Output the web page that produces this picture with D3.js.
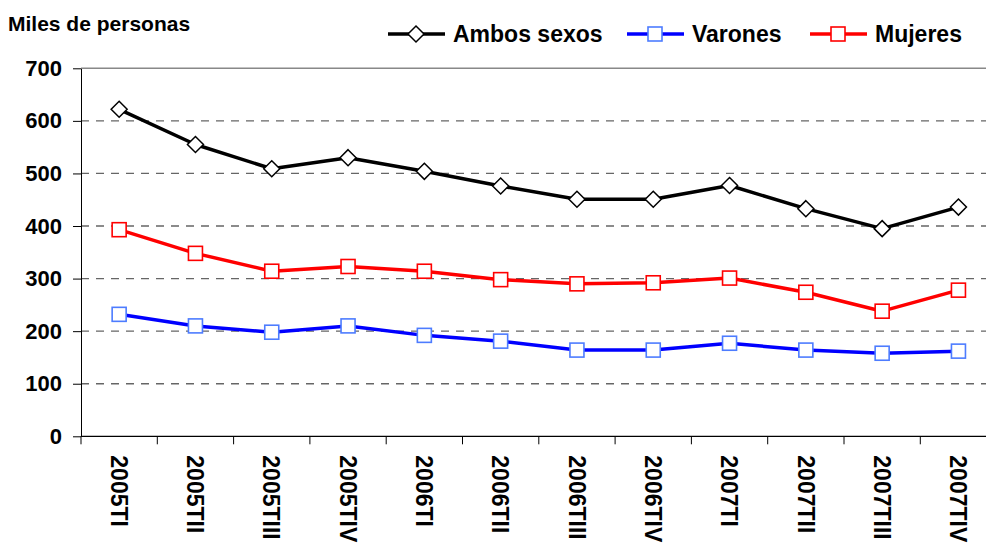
<!DOCTYPE html>
<html>
<head>
<meta charset="utf-8">
<script src="https://cdn.jsdelivr.net/npm/d3@7"></script>
<style>
	body { margin: 0; background: #fff; }
	svg { display: block; font-family: "Liberation Sans", Arial, sans-serif; font-weight: bold; }
</style>
</head>
<body>
<div id="chart"></div>
<script>
// trimestres
const categories = ["2005TI", "2005TII", "2005TIII", "2005TIV", "2006TI", "2006TII",
	"2006TIII", "2006TIV", "2007TI", "2007TII", "2007TIII", "2007TIV"]

// miles de personas
const ambos = [622, 555, 509, 530, 504, 476, 451, 451, 477, 433, 395, 436]
const varones = [232, 210, 198, 210, 192, 181, 164, 164, 177, 164, 158, 162]
const mujeres = [393, 348, 314, 323, 314, 298, 290, 292, 301, 274, 238, 278]

const yTicks = [0, 100, 200, 300, 400, 500, 600, 700]
const yLabel = "Miles de personas"

const series = [
	{ name: "Ambos sexos", values: ambos, line: "#000", marker: "#000", shape: "diamond" },
	{ name: "Varones", values: varones, line: "#0000ff", marker: "#4d7cff", shape: "square" },
	{ name: "Mujeres", values: mujeres, line: "#ff0000", marker: "#ff0000", shape: "square" }
]

const width = 986
const height = 543
const margin = { top: 68, left: 81, bottom: 106 }
const plotRight = 81 + 12 * 76.3

const svg = d3.select("#chart")
	.append("svg")
	.attr("width", width)
	.attr("height", height)

const x = d3.scaleBand()
	.domain(categories)
	.range([margin.left, plotRight])

const y = d3.scaleLinear()
	.domain([0, 700])
	.range([height - margin.bottom - 0.7, margin.top + 0.3])

// dashed grid lines
svg.append("g")
	.selectAll("line")
	.data(yTicks.filter(d => d > 0 && d < 700))
	.join("line")
	.attr("x1", margin.left)
	.attr("x2", plotRight)
	.attr("y1", d => y(d))
	.attr("y2", d => y(d))
	.attr("stroke", "#666")
	.attr("stroke-width", 1.3)
	.attr("stroke-dasharray", "8,7")

// top border of plot area
svg.append("line")
	.attr("x1", margin.left)
	.attr("x2", plotRight)
	.attr("y1", y(700))
	.attr("y2", y(700))
	.attr("stroke", "#888")
	.attr("stroke-width", 1.5)

// y axis
const yAxis = svg.append("g")
	.attr("transform", `translate(${margin.left},0)`)
	.call(d3.axisLeft(y).tickValues(yTicks).tickSize(8).tickPadding(11).tickSizeOuter(0))
yAxis.select(".domain").attr("stroke", "#000")
yAxis.selectAll(".tick line").attr("stroke", "#000")
yAxis.selectAll("text")
	.attr("font-size", 22)
	.attr("font-weight", "bold")
	.attr("font-family", "Liberation Sans, Arial, sans-serif")
	.attr("fill", "#000")

// x axis: baseline, ticks between categories, rotated labels
const xg = svg.append("g")
xg.append("line")
	.attr("x1", margin.left)
	.attr("x2", plotRight)
	.attr("y1", y(0))
	.attr("y2", y(0))
	.attr("stroke", "#000")
	.attr("stroke-width", 1.2)
xg.selectAll(".xtick")
	.data(categories)
	.join("line")
	.attr("class", "xtick")
	.attr("x1", d => x(d))
	.attr("x2", d => x(d))
	.attr("y1", y(0))
	.attr("y2", y(0) + 8)
	.attr("stroke", "#000")
xg.selectAll(".xlabel")
	.data(categories)
	.join("text")
	.attr("class", "xlabel")
	.attr("transform", d => `translate(${x(d) + x.bandwidth() / 2},${y(0) + 19}) rotate(90)`)
	.attr("dy", "0.36em")
	.attr("text-anchor", "start")
	.attr("font-size", 23)
	.text(d => d)

// lines
const line = d3.line()
	.x((d, i) => x(categories[i]) + x.bandwidth() / 2)
	.y(d => y(d))

svg.append("g")
	.selectAll("path")
	.data(series)
	.join("path")
	.attr("fill", "none")
	.attr("stroke", d => d.line)
	.attr("stroke-width", 3.5)
	.attr("stroke-linejoin", "round")
	.attr("d", d => line(d.values))

function drawMarker(g, s, cx, cy) {
	if (s.shape == "diamond") {
		g.append("path")
			.attr("d", `M${cx},${cy - 8}L${cx + 8},${cy}L${cx},${cy + 8}L${cx - 8},${cy}Z`)
			.attr("fill", "#fff")
			.attr("stroke", s.marker)
			.attr("stroke-width", 1.5)
	} else {
		g.append("rect")
			.attr("x", cx - 7)
			.attr("y", cy - 7)
			.attr("width", 14)
			.attr("height", 14)
			.attr("fill", "#fff")
			.attr("stroke", s.marker)
			.attr("stroke-width", 1.6)
	}
}

// markers
series.forEach(function (s) {
	const g = svg.append("g")
	s.values.forEach(function (v, i) {
		drawMarker(g, s, x(categories[i]) + x.bandwidth() / 2, y(v))
	})
})

// unit label
svg.append("text")
	.attr("x", 8)
	.attr("y", 31)
	.attr("font-size", 21)
	.text(yLabel)

// legend
const legendX = [388, 627, 810]
series.forEach(function (s, i) {
	const g = svg.append("g").attr("transform", `translate(${legendX[i]},34)`)
	g.append("line")
		.attr("x1", 0)
		.attr("x2", 57)
		.attr("stroke", s.line)
		.attr("stroke-width", 3.5)
	drawMarker(g, s, 28, 0)
	g.append("text")
		.attr("x", 65)
		.attr("y", 8)
		.attr("font-size", 23)
		.text(s.name)
})
</script>
</body>
</html>
